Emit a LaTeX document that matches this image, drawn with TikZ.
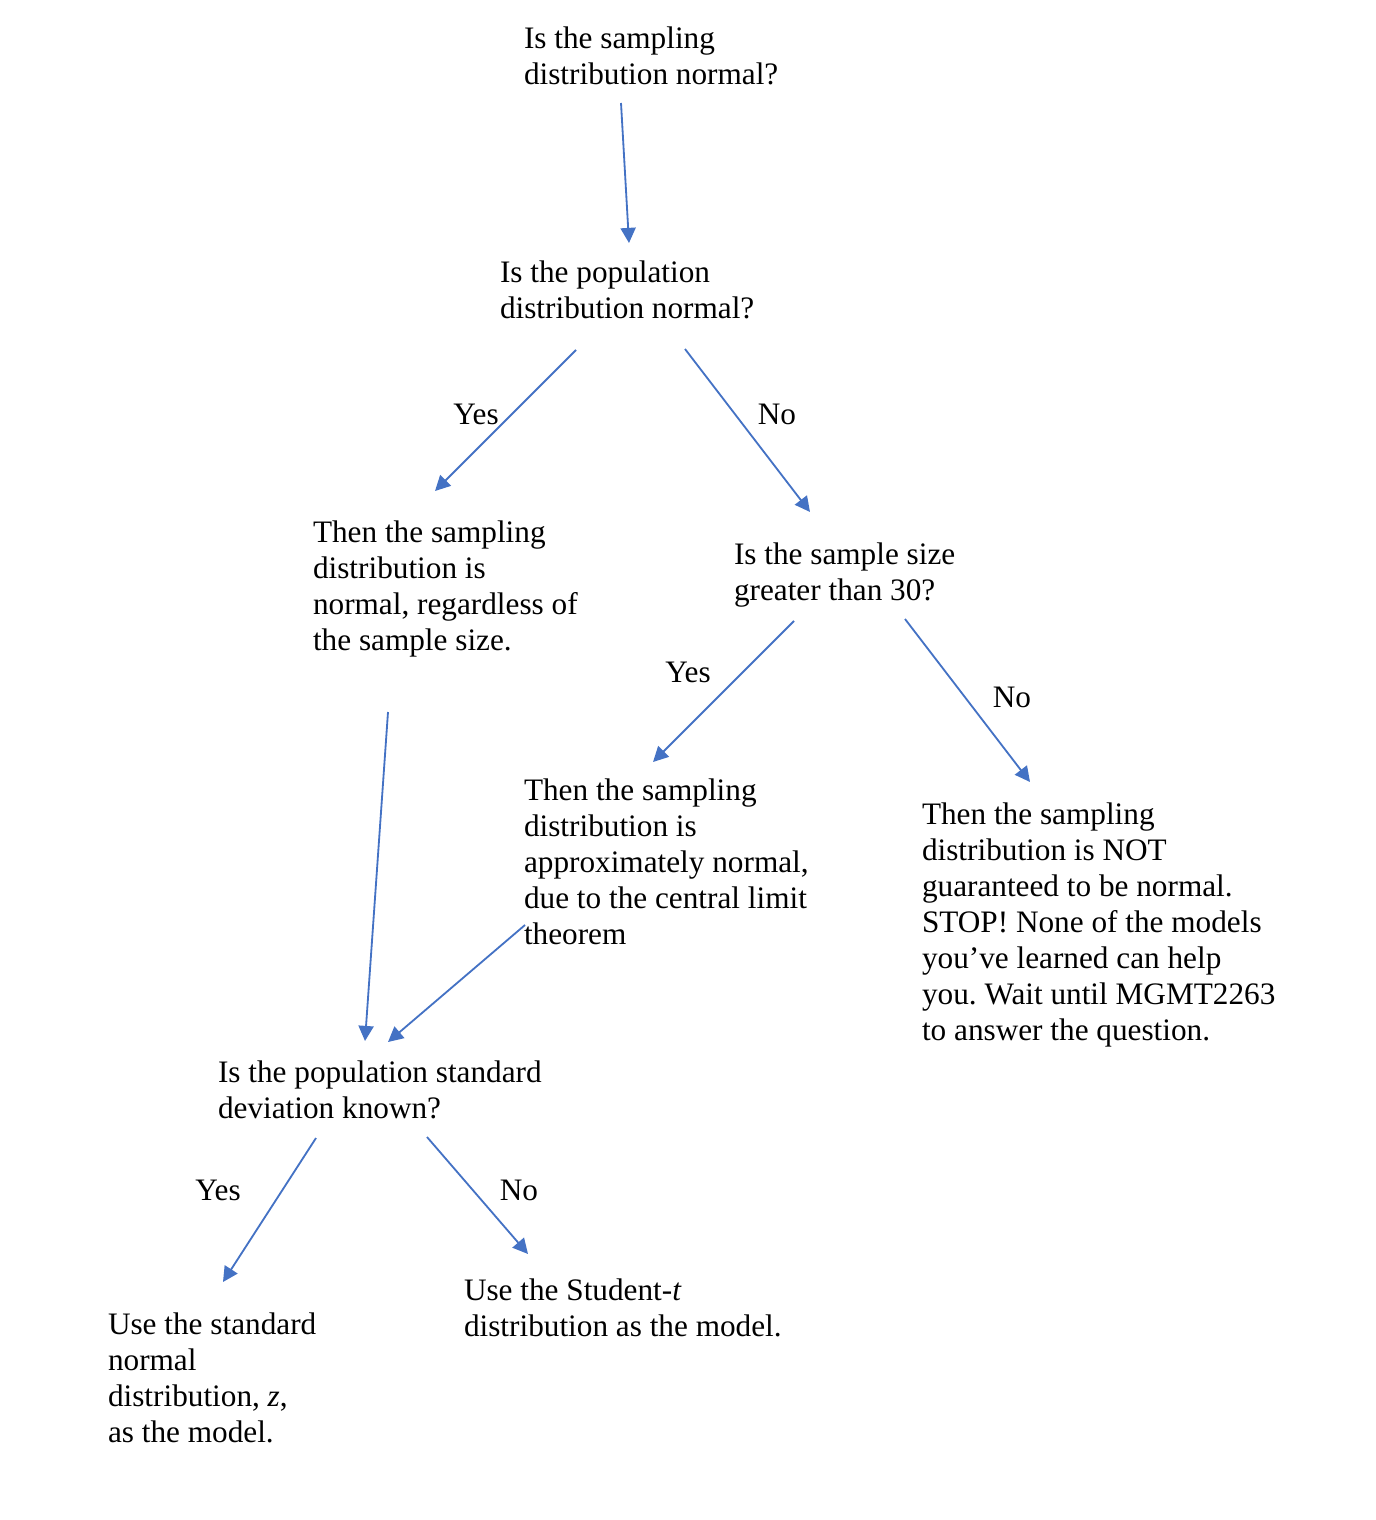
\documentclass[tikz,border=0pt]{standalone}
\usepackage{fontspec}
\setmainfont{Liberation Serif}
\usetikzlibrary{arrows.meta}
\definecolor{arrowblue}{HTML}{4472C4}
\begin{document}
\frenchspacing
\begin{tikzpicture}[x=0.384pt,y=-0.384pt,
  txt/.style={anchor=north west,inner sep=0pt,outer sep=0pt,align=left,
    font=\fontsize{12}{13.8}\selectfont},
  lbl/.style={anchor=base,inner sep=0pt,font=\fontsize{12}{13.8}\selectfont},
  conn/.style={draw=arrowblue,line width=0.7pt,
    -{Triangle[length=5.8pt,width=5.8pt]},fill=none},
]
\useasboundingbox (0,0) rectangle (1376,1520);
% text blocks (top = baseline - 25.2)
\node[txt] (t1) at (524,23.8) {\strut Is the sampling\\distribution normal?};
\node[txt] (t2) at (500,257.8) {\strut Is the population\\distribution normal?};
\node[txt] (t3) at (313,517.8) {\strut Then the sampling\\distribution is\\normal, regardless of\\the sample size.};
\node[txt] (t4) at (734,539.8) {\strut Is the sample size\\greater than 30?};
\node[txt] (t5) at (524,775.8) {\strut Then the sampling\\distribution is\\approximately normal,\\due to the central limit\\theorem};
\node[txt] (t6) at (922,799.8) {\strut Then the sampling\\distribution is NOT\\guaranteed to be normal.\\STOP! None of the models\\you’ve learned can help\\you. Wait until MGMT2263\\to answer the question.};
\node[txt] (t7) at (218,1057.8) {\strut Is the population standard\\deviation known?};
\node[txt] (t8) at (464,1275.8) {\strut Use the Student-\textit{t}\\distribution as the model.};
\node[txt] (t9) at (108,1309.8) {\strut Use the standard\\normal\\distribution, \textit{z},\\as the model.};
% labels
\node[lbl] (l1) at (476,424) {Yes};
\node[lbl] (l2) at (777,424) {No};
\node[lbl] (l3) at (688,682) {Yes};
\node[lbl] (l4) at (1012,707) {No};
\node[lbl] (l5) at (218,1200) {Yes};
\node[lbl] (l6) at (519,1200) {No};
% connector end points
\coordinate (a1s) at (621,103);   \coordinate (a1e) at (629,243);
\coordinate (a2s) at (576,350);   \coordinate (a2e) at (435,491);
\coordinate (a3s) at (685,349);   \coordinate (a3e) at (810,512);
\coordinate (a4s) at (794,621);   \coordinate (a4e) at (653,762);
\coordinate (a5s) at (905,619);   \coordinate (a5e) at (1030,782);
\coordinate (a6s) at (388,712);   \coordinate (a6e) at (365,1041);
\coordinate (a7s) at (525,925);   \coordinate (a7e) at (388,1042);
\coordinate (a8s) at (316,1138);  \coordinate (a8e) at (223,1282);
\coordinate (a9s) at (427,1137);  \coordinate (a9e) at (528,1254);
\draw[conn] (a1s) -- (a1e);
\draw[conn] (a2s) -- (a2e);
\draw[conn] (a3s) -- (a3e);
\draw[conn] (a4s) -- (a4e);
\draw[conn] (a5s) -- (a5e);
\draw[conn] (a6s) -- (a6e);
\draw[conn] (a7s) -- (a7e);
\draw[conn] (a8s) -- (a8e);
\draw[conn] (a9s) -- (a9e);
\end{tikzpicture}
\end{document}
